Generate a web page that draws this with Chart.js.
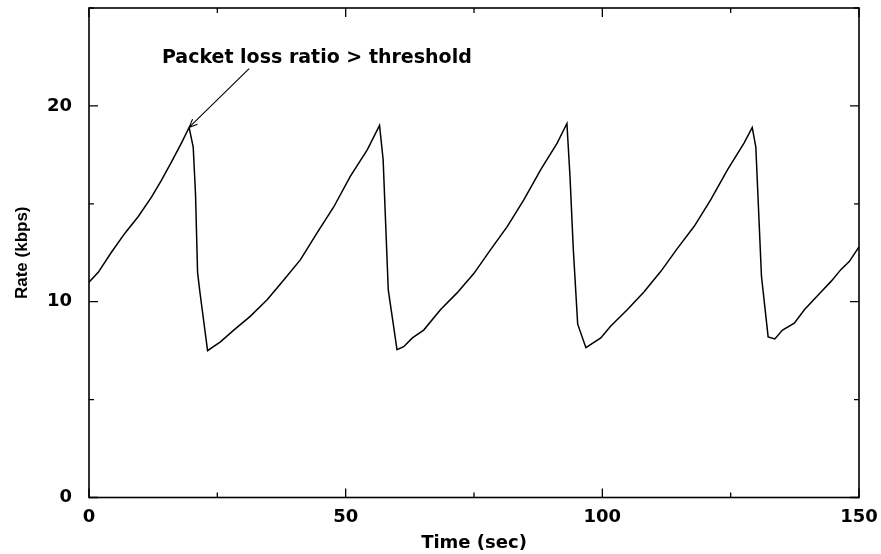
<!DOCTYPE html>
<html>
<head>
<meta charset="utf-8">
<script src="https://cdn.jsdelivr.net/npm/chart.js@4/dist/chart.umd.min.js"></script>
<style>
  html, body { margin: 0; padding: 0; background: #ffffff; }
  #wrap { width: 881px; height: 554px; }
</style>
</head>
<body>
<div id="wrap"><canvas id="c" width="881" height="554"></canvas></div>
<script>
// ---- data ----
const timeSec = [0, 1.8, 4.3, 7.0, 9.6, 12.2, 14.1, 16.1, 18.0, 19.5, 20.3, 20.75, 21.15, 21.6, 23.1,
  25.6, 28.2, 31.4, 34.7, 37.9, 41.2, 44.4, 47.7, 50.9, 54.2, 56.6, 57.3, 58.3, 60.0,
  61.3, 63.0, 65.2, 68.5, 71.7, 75.0, 78.2, 81.5, 84.7, 88.0, 91.2, 93.1, 93.7, 94.35, 95.2, 96.8,
  99.7, 101.6, 104.9, 108.1, 111.4, 114.7, 117.9, 121.1, 124.4, 127.6, 129.2, 129.9, 131.0, 132.3, 133.6,
  135.1, 137.4, 139.4, 142.6, 144.6, 146.5, 148.1, 150];
const rateKbps = [11.0, 11.5, 12.5, 13.5, 14.35, 15.35, 16.2, 17.15, 18.1, 18.9, 17.9, 15.5, 11.5, 10.5, 7.5,
  7.95, 8.55, 9.25, 10.1, 11.1, 12.15, 13.5, 14.85, 16.4, 17.75, 19.0, 17.25, 10.6, 7.55,
  7.7, 8.15, 8.55, 9.6, 10.45, 11.45, 12.65, 13.85, 15.2, 16.75, 18.1, 19.1, 16.4, 12.65, 8.85, 7.65,
  8.15, 8.75, 9.6, 10.5, 11.55, 12.75, 13.85, 15.2, 16.75, 18.1, 18.9, 17.9, 11.3, 8.2, 8.1,
  8.55, 8.9, 9.6, 10.5, 11.05, 11.65, 12.05, 12.8];
const xTickLabels = ['0', '50', '100', '150'];
const yTickLabels = ['0', '10', '20'];
const xTitle = 'Time (sec)';
const yTitle = 'Rate (kbps)';
const annotationText = 'Packet loss ratio > threshold';
// annotation anchor points in data units: text start, arrow tail, arrow tip (peak of first cycle)
const annotText = [14.2, 22.2];
const annotTail = [31.2, 21.9];
const annotTip = [timeSec[9], rateKbps[9]];

const points = timeSec.map((t, i) => ({ x: t, y: rateKbps[i] }));

function zeroPad(s) { s.paddingTop = 0; s.paddingBottom = 0; s.paddingLeft = 0; s.paddingRight = 0; }

const frameTicks = {
  id: 'frameTicks',
  afterDraw(chart) {
    const { ctx, chartArea: a, scales } = chart;
    const xs = scales.x, ys = scales.y;
    ctx.save();
    ctx.strokeStyle = '#000';
    ctx.lineWidth = 1.6;
    ctx.strokeRect(a.left, a.top, a.right - a.left, a.bottom - a.top);
    ctx.lineWidth = 1.3;
    xs.ticks.forEach(t => {
      const px = xs.getPixelForValue(t.value);
      const len = (t.value % 50 === 0) ? 9 : 5;
      ctx.beginPath();
      ctx.moveTo(px, a.bottom); ctx.lineTo(px, a.bottom - len);
      ctx.moveTo(px, a.top); ctx.lineTo(px, a.top + len);
      ctx.stroke();
    });
    ys.ticks.forEach(t => {
      const py = ys.getPixelForValue(t.value);
      const len = (t.value % 10 === 0) ? 9 : 5;
      ctx.beginPath();
      ctx.moveTo(a.left, py); ctx.lineTo(a.left + len, py);
      ctx.moveTo(a.right, py); ctx.lineTo(a.right - len, py);
      ctx.stroke();
    });
    // annotation
    const tx = xs.getPixelForValue(annotText[0]), ty = ys.getPixelForValue(annotText[1]);
    ctx.font = 'bold 19px "DejaVu Sans"';
    ctx.fillStyle = '#000';
    ctx.textBaseline = 'alphabetic';
    ctx.textAlign = 'left';
    ctx.fillText(annotationText, tx, ty);
    const x0 = xs.getPixelForValue(annotTail[0]), y0 = ys.getPixelForValue(annotTail[1]);
    const x1 = xs.getPixelForValue(annotTip[0]), y1 = ys.getPixelForValue(annotTip[1]);
    ctx.lineWidth = 1.1;
    ctx.beginPath();
    ctx.moveTo(x0, y0); ctx.lineTo(x1, y1);
    const ang = Math.atan2(y1 - y0, x1 - x0);
    const hl = 9, spread = 0.4;
    ctx.moveTo(x1, y1); ctx.lineTo(x1 - hl * Math.cos(ang - spread), y1 - hl * Math.sin(ang - spread));
    ctx.moveTo(x1, y1); ctx.lineTo(x1 - hl * Math.cos(ang + spread), y1 - hl * Math.sin(ang + spread));
    ctx.stroke();
    ctx.restore();
  }
};

new Chart(document.getElementById('c'), {
  type: 'line',
  data: {
    datasets: [{
      data: points,
      borderColor: '#000',
      borderWidth: 1.5,
      pointRadius: 0,
      tension: 0,
      fill: false
    }]
  },
  options: {
    responsive: false,
    animation: false,
    devicePixelRatio: 1,
    layout: { padding: { left: 0, right: 22, top: 8, bottom: 0 } },
    plugins: { legend: { display: false }, tooltip: { enabled: false } },
    scales: {
      x: {
        type: 'linear', min: 0, max: 150,
        afterFit(s) { s.height = 56.5; zeroPad(s); },
        grid: { display: false, drawTicks: false },
        border: { display: false },
        ticks: {
          stepSize: 25, padding: 9, color: '#000', maxRotation: 0, autoSkip: false,
          font: { family: 'DejaVu Sans', weight: 'bold', size: 18 },
          callback: v => (v % 50 === 0 ? xTickLabels[v / 50] : '')
        },
        title: {
          display: true, text: xTitle, color: '#000',
          font: { family: 'DejaVu Sans', weight: 'bold', size: 18 },
          padding: { top: 0, bottom: 0 }
        }
      },
      y: {
        type: 'linear', min: 0, max: 25,
        afterFit(s) { s.width = 89; zeroPad(s); },
        grid: { display: false, drawTicks: false },
        border: { display: false },
        ticks: {
          stepSize: 5, padding: 17, color: '#000', autoSkip: false,
          font: { family: 'DejaVu Sans', weight: 'bold', size: 18 },
          callback: v => (v % 10 === 0 ? yTickLabels[v / 10] : '')
        },
        title: {
          display: true, text: yTitle, color: '#000',
          font: { family: 'Liberation Sans', weight: 'bold', size: 17 },
          padding: { top: 12, bottom: 0 }
        }
      }
    }
  },
  plugins: [frameTicks]
});
</script>
</body>
</html>
